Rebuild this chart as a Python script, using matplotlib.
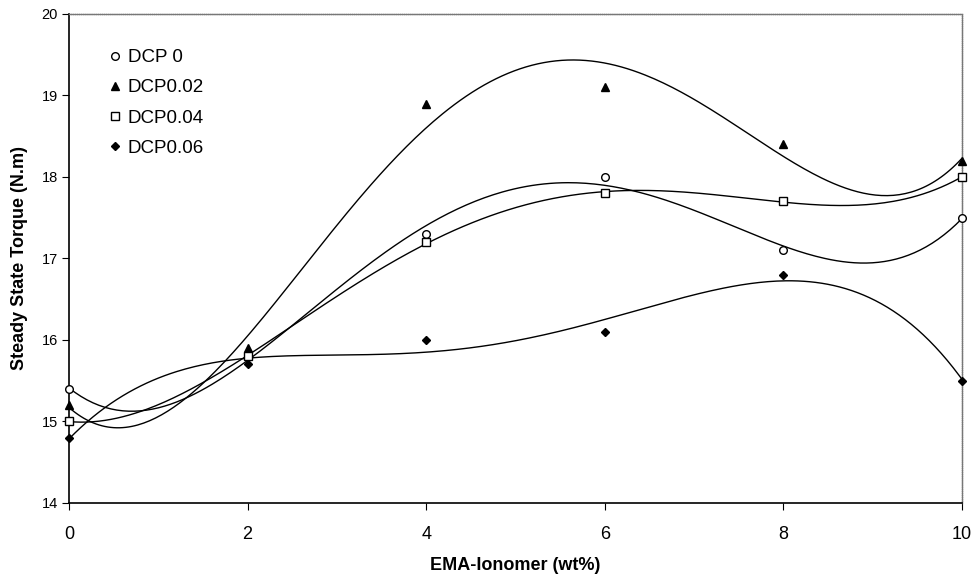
import numpy as np
import matplotlib
matplotlib.use("Agg")
import matplotlib.pyplot as plt

plt.rcParams['font.family'] = ['Liberation Sans', 'DejaVu Sans']

# EMA-ionomer content (wt%) and steady state torque (N.m) per DCP level
ionomer = [0, 2, 4, 6, 8, 10]
dcp_0 = [15.4, 15.8, 17.3, 18.0, 17.1, 17.5]
dcp_002 = [15.2, 15.9, 18.9, 19.1, 18.4, 18.2]
dcp_004 = [15.0, 15.8, 17.2, 17.8, 17.7, 18.0]
dcp_006 = [14.8, 15.7, 16.0, 16.1, 16.8, 15.5]

labels = ['DCP 0', 'DCP0.02', 'DCP0.04', 'DCP0.06']
series = [dcp_0, dcp_002, dcp_004, dcp_006]
markers = ['o', '^', 's', 'D']
filled = [False, True, False, True]
sizes = [5.5, 5.5, 5.5, 4.5]

fig = plt.figure(figsize=(9.76, 5.82), dpi=100)
ax = fig.add_axes([0.0707, 0.136, 0.915, 0.840])

xs = np.linspace(0, 10, 300)
for ys, lab, m, f, s in zip(series, labels, markers, filled, sizes):
    # 4th order polynomial trendline
    coef = np.polyfit(ionomer, ys, 4)
    ax.plot(xs, np.polyval(coef, xs), color='black', lw=1.0, zorder=2)
    ax.plot(ionomer, ys, ls='none', marker=m, markersize=s,
            markerfacecolor='black' if f else 'white',
            markeredgecolor='black', markeredgewidth=1.0,
            label=lab, zorder=3, clip_on=False)

ax.set_xlim(0, 10)
ax.set_ylim(14, 20)
ax.set_xticks([0, 2, 4, 6, 8, 10])
ax.set_yticks([14, 15, 16, 17, 18, 19, 20])
ax.tick_params(axis='x', direction='out', length=5, labelsize=13, pad=12)
ax.tick_params(axis='y', direction='out', length=5, labelsize=10.5, pad=3)
ax.tick_params(top=False, right=False)

for side in ['left', 'bottom']:
    ax.spines[side].set_color('black')
    ax.spines[side].set_linewidth(1.2)
for side in ['top', 'right']:
    ax.spines[side].set_color('#777777')
    ax.spines[side].set_linewidth(1.0)
    ax.spines[side].set_linestyle((0, (1, 0.5)))

ax.set_xlabel('EMA-Ionomer (wt%)', fontsize=13, fontweight='bold', labelpad=10)
ax.set_ylabel('Steady State Torque (N.m)', fontsize=13, fontweight='bold', labelpad=10)

ax.legend(loc='upper left', bbox_to_anchor=(0.03, 0.955), frameon=False,
          fontsize=13.5, handlelength=0.6, handletextpad=0.4, labelspacing=0.7,
          borderpad=0.2)

fig.savefig('out.png', dpi=100)
plt.close(fig)
